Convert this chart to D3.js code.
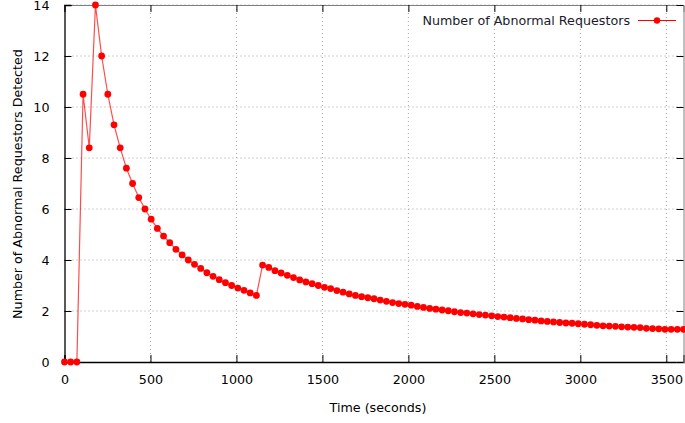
<!DOCTYPE html>
<html><head><meta charset="utf-8">
<script src="https://cdn.jsdelivr.net/npm/d3@7"></script>
<style>body{margin:0;background:#fff;} text{font-family:"DejaVu Sans",Verdana,sans-serif;}</style>
</head><body>
<svg id="c" width="685" height="423"></svg>
<script>
const timeStep = 36;
const detected = [0,0,0,10.5,8.4,14,12.0,10.5,9.3,8.4,7.6,7.0,6.45,6.0,5.6,5.24,4.94,4.68,4.42,4.2,
4.0,3.83,3.67,3.5,3.36,3.23,3.11,3.0,2.9,2.81,2.71,2.61,3.8,3.71,3.58,3.49,3.4,3.31,3.22,3.14,
3.07,3.0,2.93,2.88,2.8,2.74,2.67,2.61,2.56,2.52,2.48,2.43,2.38,2.33,2.29,2.26,2.23,2.18,2.14,2.10,
2.07,2.04,2.01,1.97,1.94,1.92,1.89,1.86,1.84,1.81,1.78,1.76,1.74,1.71,1.69,1.66,1.64,1.61,1.59,1.57,
1.55,1.53,1.52,1.50,1.48,1.46,1.44,1.42,1.41,1.40,1.38,1.37,1.36,1.35,1.32,1.31,1.30,1.28,1.28,1.28,1.28];
const times = detected.map((d,i)=>i*timeStep);
const xTicks = [0,500,1000,1500,2000,2500,3000,3500];
const yTicks = [0,2,4,6,8,10,12,14];
const seriesName = "Number of Abnormal Requestors";
const xTitle = "Time (seconds)";
const yTitle = "Number of Abnormal Requestors Detected";

const FS = "12.7px";
const svg = d3.select("#c");
const L=64.5, R=683.5, T=5, B=362;
const x = d3.scaleLinear().domain([0,3600]).range([L,R]);
const y = d3.scaleLinear().domain([0,14]).range([B,T]);

// grid
const g = svg.append("g");
g.selectAll(".gx").data(xTicks.filter(d=>d>0)).enter().append("line")
 .attr("x1",d=>x(d)).attr("x2",d=>x(d)).attr("y1",T).attr("y2",B)
 .attr("stroke","#a0a0a0").attr("stroke-width",1).attr("stroke-dasharray","1,3");
g.selectAll(".gy").data(yTicks.filter(d=>d>0)).enter().append("line")
 .attr("x1",L).attr("x2",R).attr("y1",d=>y(d)).attr("y2",d=>y(d))
 .attr("stroke","#a0a0a0").attr("stroke-width",1).attr("stroke-dasharray","1,3");

// axes
const xAx = svg.append("g").attr("transform",`translate(0,${B})`)
 .call(d3.axisBottom(x).tickValues(xTicks).tickSize(-7).tickPadding(13).tickFormat(d3.format("d")));
const xTop = svg.append("g").attr("transform",`translate(0,${T})`)
 .call(d3.axisTop(x).tickValues(xTicks).tickSize(-7).tickFormat(""));
const yAx = svg.append("g").attr("transform",`translate(${L},0)`)
 .call(d3.axisLeft(y).tickValues(yTicks).tickSize(-7).tickPadding(15).tickFormat(d3.format("d")));
const yRight = svg.append("g").attr("transform",`translate(${R},0)`)
 .call(d3.axisRight(y).tickValues(yTicks).tickSize(-7).tickFormat(""));
[xAx,yAx].forEach(a=>{a.select(".domain").attr("stroke","#000").attr("stroke-width",1.3);
  a.selectAll(".tick line").attr("stroke","#000");
  a.selectAll("text").attr("font-size",FS).attr("fill","#000").attr("font-family","DejaVu Sans, Verdana, sans-serif");});
[xTop,yRight].forEach(a=>{a.select(".domain").attr("stroke","#808080");
  a.selectAll(".tick line").attr("stroke","#000");});

// line + points
const line = d3.line().x((d,i)=>x(times[i])).y(d=>y(d));
svg.append("path").datum(detected).attr("d",line).attr("fill","none")
 .attr("stroke","#ff0000").attr("stroke-opacity",0.7).attr("stroke-width",1.2);
svg.selectAll(".pt").data(detected).enter().append("circle")
 .attr("cx",(d,i)=>x(times[i])).attr("cy",d=>y(d)).attr("r",3.4).attr("fill","#ff0000");

// legend
svg.append("text").attr("x",630).attr("y",25).attr("text-anchor","end")
 .attr("font-size",FS).attr("fill","#1a1a2a").text(seriesName);
svg.append("line").attr("x1",638).attr("x2",676).attr("y1",20.5).attr("y2",20.5)
 .attr("stroke","#ff0000").attr("stroke-width",1.2);
svg.append("circle").attr("cx",657).attr("cy",20.5).attr("r",3.2).attr("fill","#ff0000");

// titles
svg.append("text").attr("x",378).attr("y",412).attr("text-anchor","middle")
 .attr("font-size",FS).attr("fill","#000").text(xTitle);
svg.append("text").attr("transform","translate(22,184) rotate(-90)").attr("text-anchor","middle")
 .attr("font-size",FS).attr("fill","#000").text(yTitle);
</script>
</body></html>
